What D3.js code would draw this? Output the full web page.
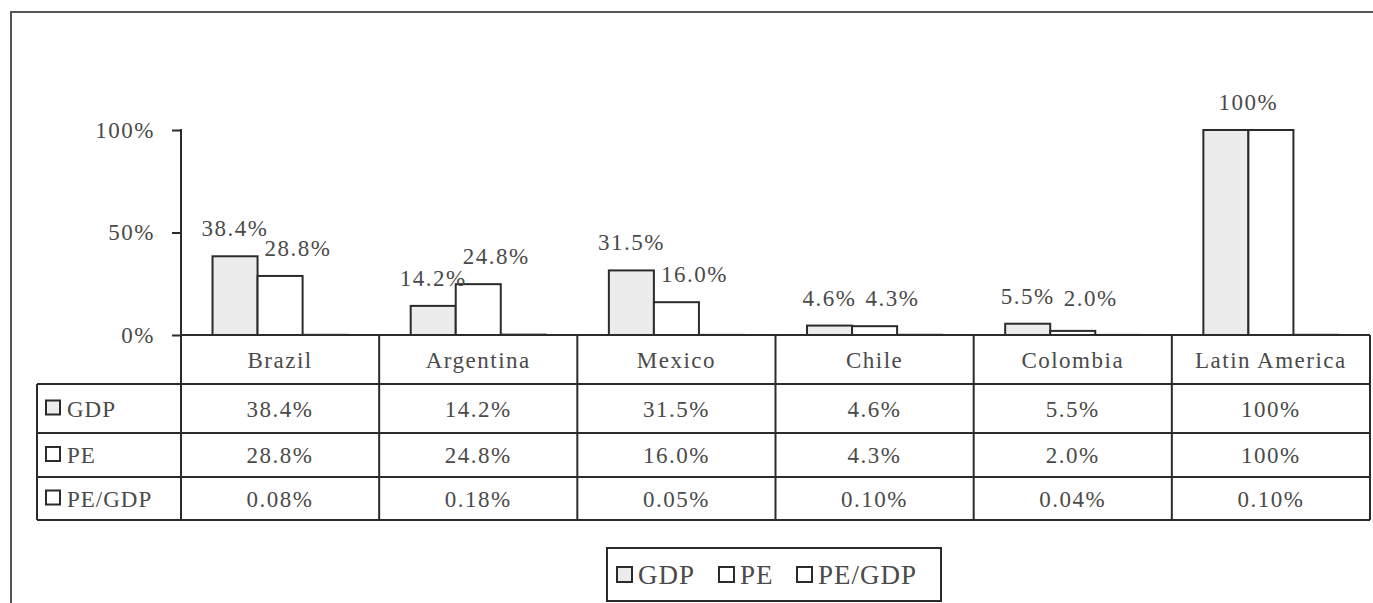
<!DOCTYPE html>
<html>
<head>
<meta charset="utf-8">
<script src="https://cdn.jsdelivr.net/npm/d3@7"></script>
<style>
  body { margin: 0; background: #fff; }
  svg text { font-family: "Liberation Serif", "Times New Roman", serif; fill: #4a4a4a; }
</style>
</head>
<body>
<svg id="chart" width="1373" height="603"></svg>
<script>
// shares of the Latin American total, in percent
const categories = ["Brazil", "Argentina", "Mexico", "Chile", "Colombia", "Latin America"]
const seriesNames = ["GDP", "PE", "PE/GDP"]
const gdpShare = [38.4, 14.2, 31.5, 4.6, 5.5, 100]
const peShare = [28.8, 24.8, 16.0, 4.3, 2.0, 100]
const peToGdp = [0.08, 0.18, 0.05, 0.10, 0.04, 0.10]
const yTicks = [0, 50, 100]

const fills = {"GDP": "#ececec", "PE": "#ffffff", "PE/GDP": "#ffffff"}
const ink = "#2b2b2b"

const svg = d3.select("#chart")

const plot = {left: 181, right: 1370, top: 130, zero: 335}
const rows = [335, 384, 433, 477, 520]   // header + three table rows
const tableLeft = 37

const series = [gdpShare, peShare, peToGdp]

let fmt = (v, i) => {
    if (i === 2) return v.toFixed(2) + "%"
    return v === 100 ? "100%" : v.toFixed(1) + "%"
}

// outer frame (only top and left visible)
svg.append("path")
    .attr("d", `M11,603 V12 H1373`)
    .attr("fill", "none")
    .attr("stroke", "#555")
    .attr("stroke-width", 2)

let x0 = d3.scaleBand().domain(categories).range([plot.left, plot.right]).padding(0)
let x1 = d3.scaleBand().domain(seriesNames).range([0, x0.bandwidth()])
    .paddingInner(0).paddingOuter(0.7)
let y = d3.scaleLinear().domain([0, 100]).range([plot.zero, plot.top])

// y axis
let yAxis = svg.append("g")
    .attr("transform", `translate(${plot.left},0)`)
    .call(d3.axisLeft(y).tickValues(yTicks).tickFormat(d => d + "%").tickSize(9).tickPadding(17))
yAxis.select(".domain").remove()
yAxis.selectAll("line").attr("stroke", ink).attr("stroke-width", 2)
yAxis.selectAll("text")
    .style("font-family", "Liberation Serif, serif")
    .style("font-size", "23px")
    .style("letter-spacing", "1.5px")
    .attr("fill", "#4a4a4a")

// bars
let barData = []
categories.forEach((c, ci) => {
    seriesNames.forEach((s, si) => {
        barData.push({cat: c, ser: s, value: series[si][ci]})
    })
})

svg.append("g").selectAll("rect").data(barData).join("rect")
    .attr("x", d => x0(d.cat) + x1(d.ser))
    .attr("y", d => y(d.value))
    .attr("width", x1.bandwidth())
    .attr("height", d => y(0) - y(d.value))
    .attr("fill", d => fills[d.ser])
    .attr("stroke", ink)
    .attr("stroke-width", 2)

// data labels for GDP and PE
let labels = []
categories.forEach((c, ci) => {
    let g = gdpShare[ci], p = peShare[ci]
    let gx = x0(c) + x1("GDP") + x1.bandwidth() / 2
    let px = x0(c) + x1("PE") + x1.bandwidth() / 2
    if (g === p) {
        labels.push({x: (gx + px) / 2, v: g, i: 0})
    } else {
        labels.push({x: gx, v: g, i: 0})
        labels.push({x: px + 18, v: p, i: 1})
    }
})

svg.append("g").selectAll("text").data(labels).join("text")
    .attr("x", d => d.x)
    .attr("y", d => Math.min(y(d.v) - 20, y(0) - 29))
    .attr("text-anchor", "middle")
    .style("font-size", "23px")
    .style("letter-spacing", "1.5px")
    .text(d => fmt(d.v, d.i))

// data table grid
let grid = svg.append("g").attr("stroke", ink).attr("stroke-width", 2).attr("fill", "none")

// axis line down through the table
grid.append("line").attr("x1", plot.left).attr("x2", plot.left).attr("y1", plot.top - 1).attr("y2", rows[4])
rows.forEach((ry, ri) => {
    grid.append("line")
        .attr("x1", ri === 0 ? plot.left : tableLeft).attr("x2", plot.right)
        .attr("y1", ry).attr("y2", ry)
})
grid.append("line").attr("x1", tableLeft).attr("x2", tableLeft).attr("y1", rows[1]).attr("y2", rows[4])
categories.forEach(c => {
    grid.append("line")
        .attr("x1", x0(c) + x0.bandwidth()).attr("x2", x0(c) + x0.bandwidth())
        .attr("y1", rows[0]).attr("y2", rows[4])
})

// header names
svg.append("g").selectAll("text").data(categories).join("text")
    .attr("x", d => x0(d) + x0.bandwidth() / 2)
    .attr("y", (rows[0] + rows[1]) / 2)
    .attr("dy", "0.35em")
    .attr("text-anchor", "middle")
    .style("font-size", "23px")
    .style("letter-spacing", "1.5px")
    .text(d => d)

// table values
series.forEach((vals, si) => {
    let cy = (rows[si + 1] + rows[si + 2]) / 2
    svg.append("g").selectAll("text").data(vals).join("text")
        .attr("x", (d, ci) => x0(categories[ci]) + x0.bandwidth() / 2)
        .attr("y", cy)
        .attr("dy", "0.35em")
        .attr("text-anchor", "middle")
        .style("font-size", "23px")
        .style("letter-spacing", "1.5px")
        .text(d => fmt(d, si))

    // row key + name
    svg.append("rect")
        .attr("x", 46).attr("y", cy - 8)
        .attr("width", 14).attr("height", 14)
        .attr("fill", fills[seriesNames[si]])
        .attr("stroke", ink).attr("stroke-width", 2)
    svg.append("text")
        .attr("x", 67).attr("y", cy)
        .attr("dy", "0.35em")
        .style("font-size", "23px")
        .style("letter-spacing", "1px")
        .text(seriesNames[si])
})

// legend
let legend = svg.append("g")
legend.append("rect")
    .attr("x", 607).attr("y", 548).attr("width", 334).attr("height", 53)
    .attr("fill", "#fff").attr("stroke", ink).attr("stroke-width", 2)
let legendX = [617, 719, 797]
seriesNames.forEach((s, i) => {
    legend.append("rect")
        .attr("x", legendX[i]).attr("y", 567)
        .attr("width", 15).attr("height", 15)
        .attr("fill", fills[s]).attr("stroke", ink).attr("stroke-width", 2)
    legend.append("text")
        .attr("x", legendX[i] + 21).attr("y", 575)
        .attr("dy", "0.35em")
        .style("font-size", "27px")
        .style("letter-spacing", "1px")
        .text(s)
})
</script>
</body>
</html>
